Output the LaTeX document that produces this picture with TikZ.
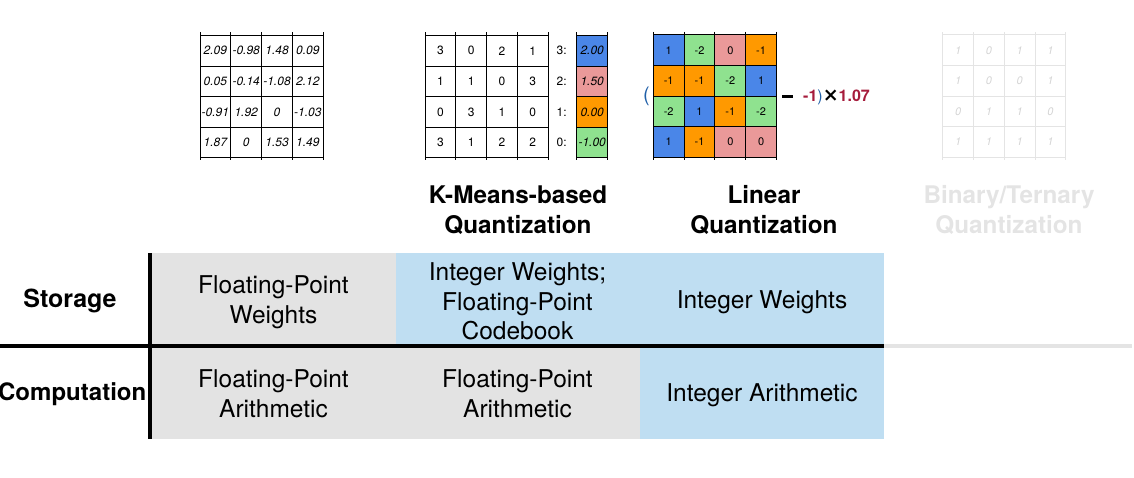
\documentclass[tikz,border=0pt]{standalone}
\usepackage{fontspec}
\setmainfont{TeX Gyre Heros}
\newfontfamily\symfont{DejaVu Sans}
\usetikzlibrary{positioning}
\definecolor{QBlue}{RGB}{74,134,232}
\definecolor{QGreen}{RGB}{143,226,143}
\definecolor{QPink}{RGB}{234,153,153}
\definecolor{QOrange}{RGB}{255,153,0}
\definecolor{TabGray}{RGB}{227,227,227}
\definecolor{TabBlue}{RGB}{191,222,242}
\definecolor{FadeGray}{RGB}{228,228,228}
\definecolor{FadeText}{RGB}{212,212,212}
\definecolor{ScaleRed}{RGB}{166,28,60}
\definecolor{ParenBlue}{RGB}{31,95,168}
\tikzset{
  wcell/.style={minimum size=30.7pt,inner sep=0pt,outer sep=0pt,
    font=\fontsize{12}{14}\selectfont\itshape},
  kcell/.style={minimum size=30.7pt,inner sep=0pt,outer sep=0pt,
    font=\fontsize{12}{14}\selectfont},
  lcell/.style={minimum size=30.7pt,inner sep=0pt,outer sep=0pt,
    font=\fontsize{11}{13}\selectfont},
  bcell/.style={minimum size=30.7pt,inner sep=0pt,outer sep=0pt,
    font=\fontsize{11}{13}\selectfont\itshape,text=FadeText},
  v1/.style={fill=QBlue},
  v0/.style={fill=QPink},
  v-1/.style={fill=QOrange},
  v-2/.style={fill=QGreen},
  gridline/.style={line width=1pt,black},
  fadeline/.style={line width=1pt,FadeGray},
  title/.style={align=center,font=\bfseries\fontsize{24.3}{30}\selectfont},
  tcell/.style={minimum width=244pt,minimum height=91pt,inner sep=0pt},
  ttext/.style={align=center,inner sep=0pt,font=\fontsize{24.5}{29.5}\selectfont},
  rowlabel/.style={font=\bfseries\fontsize{25}{28}\selectfont},
  rule/.style={line width=4pt,black}
}
\begin{document}
\begin{tikzpicture}[x=1pt,y=-1pt]
\useasboundingbox (0,0) rectangle (1134,478);

% floating-point weights
\foreach \row [count=\i from 0] in {{2.09,-0.98,1.48,0.09},{0.05,-0.14,-1.08,2.12},
    {-0.91,1.92,0,-1.03},{1.87,0,1.53,1.49}} {
  \foreach \v [count=\j from 0] in \row {
    \node[wcell] (w-\i-\j) at (215.4+30.8*\j,50.8+30.6*\i) {\v};
  }
}
\foreach \k in {0,...,4} {
  \draw[gridline] (200+30.8*\k,32.5) -- (200+30.8*\k,160.5);
  \draw[gridline] (200,35.5+30.6*\k) -- (323.2,35.5+30.6*\k);
}

% k-means: indices and codebook
\foreach \row [count=\i from 0] in {{3,0,2,1},{1,1,0,3},{0,3,1,0},{3,1,2,2}} {
  \foreach \v [count=\j from 0] in \row {
    \node[kcell] (k-\i-\j) at (440.4+30.8*\j,50.8+30.6*\i) {\v};
  }
}
\foreach \k in {0,...,4} {
  \draw[gridline] (425+30.8*\k,32.5) -- (425+30.8*\k,160.5);
  \draw[gridline] (425,35.5+30.6*\k) -- (548.2,35.5+30.6*\k);
}
\foreach \lab/\val/\col [count=\i from 0] in {3/2.00/QBlue,2/1.50/QPink,1/0.00/QOrange,0/-1.00/QGreen} {
  \node[kcell,minimum size=0pt] (kl-\lab) at (561.7,50.8+30.6*\i) {\lab:};
  \node[wcell,fill=\col,minimum width=31pt,minimum height=30.6pt] (cb-\lab) at (592.2,50.8+30.6*\i) {\val};
}
\foreach \k in {0,...,4} {
  \draw[gridline] (576.7,35.5+30.6*\k) -- (607.7,35.5+30.6*\k);
}
\foreach \x in {576.7,607.7} {
  \draw[gridline] (\x,32.5) -- (\x,160.5);
}

% linear quantization
\foreach \row [count=\i from 0] in {{1,-2,0,-1},{-1,-1,-2,1},{-2,1,-1,-2},{1,-1,0,0}} {
  \foreach \v [count=\j from 0] in \row {
    \node[lcell,v\v] (l-\i-\j) at (668.7+30.8*\j,50.3+30.6*\i) {\v};
  }
}
\foreach \k in {0,...,4} {
  \draw[gridline] (653.3+30.8*\k,32) -- (653.3+30.8*\k,160);
  \draw[gridline] (653.3,35+30.6*\k) -- (776.5,35+30.6*\k);
}
\node[font=\fontsize{20}{22}\selectfont,text=ParenBlue] (lpar) at (646.5,96) {(};
\node[anchor=west,inner sep=0pt,font=\bfseries\fontsize{16}{18}\selectfont] (lscale) at (782,97)
  {\rule[0.22em]{11pt}{3pt}\hspace{10pt}\textcolor{ScaleRed}{-1}\textcolor{ParenBlue}{\mdseries)}{\symfont\bfseries\fontsize{19}{19}\selectfont ×}\textcolor{ScaleRed}{1.07}};

% binary/ternary
\foreach \row [count=\i from 0] in {{1,0,1,1},{1,0,0,1},{0,1,1,0},{1,1,1,1}} {
  \foreach \v [count=\j from 0] in \row {
    \node[bcell] (b-\i-\j) at (958.1+30.8*\j,50.3+30.6*\i) {\v};
  }
}
\foreach \k in {0,...,4} {
  \draw[fadeline] (942.7+30.8*\k,32) -- (942.7+30.8*\k,160);
  \draw[fadeline] (942.7,35+30.6*\k) -- (1065.9,35+30.6*\k);
}

% column titles
\node[title] (km) at (518,210) {K-Means-based\\Quantization};
\node[title] (lin) at (764,210) {Linear\\Quantization};
\node[title,text=FadeGray] (bin) at (1009,210) {Binary/Ternary\\Quantization};

% table
\node[tcell,fill=TabGray] (s1) at (273.5,298.5) {};
\node[tcell,fill=TabBlue] (s2) at (517.5,298.5) {};
\node[tcell,fill=TabBlue] (s3) at (762,298.5) {};
\node[tcell,fill=TabGray] (c1) at (273.5,393) {};
\node[tcell,fill=TabGray] (c2) at (517.5,393) {};
\node[tcell,fill=TabBlue] (c3) at (762,393) {};

\node[ttext] (s1t) at ([yshift=-3.5pt]s1.center) {Floating-Point\\Weights};
\node[ttext] (s2t) at ([yshift=-3pt]s2.center) {Integer Weights;\\Floating-Point\\Codebook};
\node[ttext] (s3t) at ([yshift=-3.5pt]s3.center) {Integer Weights};
\node[ttext] (c1t) at ([yshift=-1pt]c1.center) {Floating-Point\\Arithmetic};
\node[ttext] (c2t) at ([yshift=-1pt]c2.center) {Floating-Point\\Arithmetic};
\node[ttext] (c3t) at ([yshift=-2.5pt]c3.center) {Integer Arithmetic};

\node[rowlabel] (stor) at (70,301) {Storage};
\node[rowlabel,font=\bfseries\fontsize{24}{28}\selectfont,anchor=east,inner sep=0pt] (comp) at (146.5,394) {Computation};

\draw[rule] (150,253) -- (150,438.5);
\draw[rule] (0,346) -- (884,346);
\draw[rule,FadeGray] (884,346) -- (1132,346);
\end{tikzpicture}
\end{document}
